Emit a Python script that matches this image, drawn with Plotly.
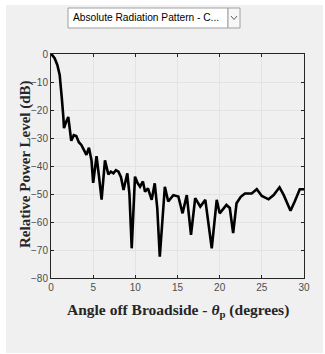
import plotly.graph_objects as go

angle_deg = [0, 0.12, 0.43, 0.75, 1.03, 1.15, 1.3, 1.46, 1.54, 1.8, 2.05, 2.4, 2.7, 3.0, 3.3,
             3.6, 3.9, 4.2, 4.5, 4.8, 5.0, 5.4, 5.7, 6.0, 6.4, 6.8, 7.1, 7.4, 7.7, 8.0,
             8.3, 8.6, 9.05, 9.3, 9.57, 9.96, 10.25, 10.56, 10.9, 11.15, 11.5, 11.94, 12.3,
             12.6, 12.9, 13.5, 13.9, 14.5, 15.1, 15.6, 16.1, 16.6, 17.1, 17.7, 18.3, 19.06,
             19.65, 20.0, 20.8, 21.2, 21.6, 22.0, 22.5, 23.0, 23.8, 24.4, 25.0, 25.8, 26.4,
             27.1, 27.6, 28.0, 28.4, 28.9, 29.5, 29.9, 30.0]
level_db = [0, -0.3, -1.5, -3.9, -7.5, -10.5, -16.4, -22.4, -26.5, -24.2, -22.5, -31, -29, -29.3, -31.5,
            -32.5, -34.5, -36, -33.5, -37.9, -46, -36.5, -44, -52, -38, -43, -42, -42.6, -41.5, -42,
            -44, -48.6, -42.6, -50, -69.4, -43.8, -46, -47.4, -45.5, -49.2, -48, -52.1, -46.2,
            -55, -72.4, -47.4, -52.7, -50.4, -50.9, -56.9, -50.4, -64.6, -51.5, -54.5, -52.1, -69.4,
            -52.1, -56.9, -53.9, -55, -64, -53.3, -51, -49.8, -49.8, -48.3, -50.7, -51.9, -50.4,
            -47.6, -50.4, -53.3, -56, -52.7, -48.3, -48.3, -48.5]

x_ticks = [0, 5, 10, 15, 20, 25, 30]
y_ticks = [0, -10, -20, -30, -40, -50, -60, -70, -80]
menu_label = "Absolute Radiation Pattern - C..."

W, H = 325, 354
L, R, T, B = 51, 304, 54, 278


def px(x):
    return (x - L) / (R - L)


def py(y):
    return (B - y) / (B - T)


fig = go.Figure()
fig.add_trace(go.Scatter(x=angle_deg, y=level_db, mode="lines",
                         line=dict(color="black", width=2.6), hoverinfo="skip"))

axis_common = dict(showgrid=True, gridcolor="#e3e3e3", gridwidth=1, zeroline=False,
                   showline=True, linecolor="#262626", linewidth=1, mirror="allticks",
                   ticks="inside", ticklen=3, tickcolor="#262626",
                   tickfont=dict(family="Liberation Sans, Arial", size=10, color="#4d4d4d"))

fig.update_xaxes(range=[0, 30], tickvals=x_ticks, **axis_common)
fig.update_yaxes(range=[-80, 0], tickvals=y_ticks, **axis_common)

shapes = [
    # gray panel
    dict(type="rect", xref="paper", yref="paper", x0=px(6), x1=px(323), y0=py(353), y1=py(5),
         fillcolor="#f0f0f0", line=dict(width=0), layer="below"),
    # dropdown box
    dict(type="rect", xref="paper", yref="paper", x0=px(68), x1=px(228), y0=py(28), y1=py(8),
         fillcolor="white", line=dict(color="#a0a0a0", width=1)),
    dict(type="rect", xref="paper", yref="paper", x0=px(228), x1=px(240), y0=py(28), y1=py(8),
         fillcolor="#f7f7f7", line=dict(color="#a0a0a0", width=1)),
    dict(type="path", xref="paper", yref="paper",
         path=f"M {px(231)},{py(16)} L {px(234)},{py(19.5)} L {px(237)},{py(16)}",
         line=dict(color="#606060", width=1)),
]

annotations = [
    dict(text=menu_label, xref="paper", yref="paper", x=px(71), y=py(18),
         xanchor="left", yanchor="middle", showarrow=False,
         font=dict(family="Liberation Sans, Arial", size=10.2, color="black")),
    dict(text="<b>Relative Power Level (dB)</b>", xref="paper", yref="paper",
         x=px(25), y=py(164), xanchor="center", yanchor="middle", textangle=-90,
         showarrow=False, font=dict(family="Liberation Serif, Times New Roman", size=15, color="#262626")),
    dict(text="<b>Angle off Broadside - <i>θ</i><sub>p</sub> (degrees)</b>", xref="paper", yref="paper",
         x=px(177.5), y=py(310), xanchor="center", yanchor="middle",
         showarrow=False, font=dict(family="Liberation Serif, Times New Roman", size=15.5, color="#262626")),
]

fig.update_layout(width=W, height=H, margin=dict(l=L, r=W - R, t=T, b=H - B, pad=0),
                  paper_bgcolor="white", plot_bgcolor="white", showlegend=False,
                  shapes=shapes, annotations=annotations)

fig.write_html("out.html", config={"displayModeBar": False})
